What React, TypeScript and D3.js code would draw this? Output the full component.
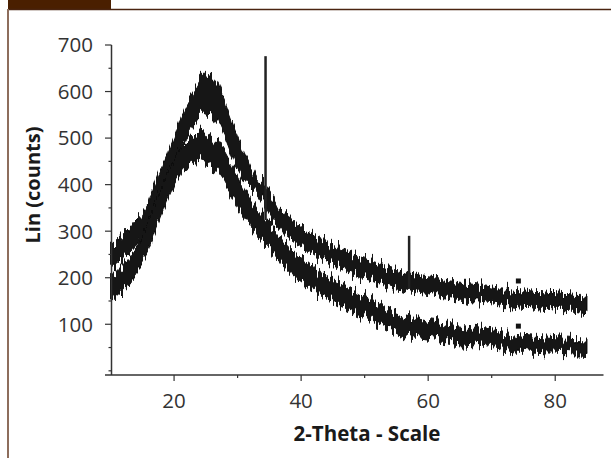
import React from 'react';
import * as d3 from 'd3';

const twoTheta = [10,11,12,13,14,15,16,17,18,19,20,21,22,23,24,25,26,27,28,29,30,31,32,33,34,35,36,37,38,39,40,41,42,43,44,45,46,47,48,49,50,51,52,53,54,55,56,57,58,59,60,61,62,63,64,65,66,67,68,69,70,71,72,73,74,75,76,77,78,79,80,81,82,83,84,85];

const sampleAHigh = [266,278,294,308,324,336,360,398,435,469,507,544,576,602,626,640,636,612,575,537,503,468,438,411,406,382,358,343,332,320,310,298,292,284,278,270,264,260,252,246,242,236,232,226,222,218,214,210,208,204,202,200,196,194,192,188,188,186,184,180,178,176,176,174,172,172,170,168,168,166,166,164,164,162,162,160];
const sampleALow = [220,230,242,254,270,286,308,347,382,416,450,482,508,530,547,554,552,530,500,464,434,410,394,382,362,332,314,302,287,277,268,258,250,242,236,228,222,216,210,204,200,196,190,187,182,178,176,172,170,168,166,162,160,158,156,152,150,148,148,146,144,142,140,140,138,136,136,134,132,132,130,130,128,128,126,126];

const sampleBHigh = [203,213,226,243,263,290,320,358,393,428,460,483,498,508,513,510,503,488,468,443,418,390,368,348,333,316,298,282,266,254,243,233,222,212,203,196,190,182,174,168,160,154,148,140,132,124,120,116,112,110,106,104,102,100,98,96,94,92,90,88,86,84,80,78,76,74,73,72,71,70,69,68,68,67,67,66];
const sampleBLow = [152,162,174,187,207,234,262,300,337,370,402,427,442,450,452,448,438,422,402,377,352,330,312,294,277,264,246,230,214,202,192,182,174,164,156,148,140,134,128,122,116,110,104,98,90,82,78,76,72,70,68,66,64,62,60,58,57,56,54,52,50,48,46,44,42,42,40,40,39,38,38,37,37,36,36,35];

// sharp reflections
const peakTheta = [34.4, 57.0];
const peakBase = [324, 176];
const peakTop = [676, 290];

// isolated points
const dotTheta = [74.2, 74.2];
const dotValue = [193, 96];

const yTicks = [100, 200, 300, 400, 500, 600, 700];
const yMinor = [0, 50, 150, 250, 350, 450, 550, 650];
const xTicks = [20, 40, 60, 80];
const xMinor = [30, 50, 70];

type Row = { t: number; lo: number; hi: number };

export default function App() {
  const x = d3.scaleLinear().domain([10.15, 87.6]).range([111.5, 603.5]);
  const y = d3.scaleLinear().domain([-9, 700]).range([375, 45]);

  const rowsA: Row[] = twoTheta.map((t, i) => ({ t, lo: sampleALow[i], hi: sampleAHigh[i] }));
  const rowsB: Row[] = twoTheta.map((t, i) => ({ t, lo: sampleBLow[i], hi: sampleBHigh[i] }));
  const area = d3.area<Row>().x(d => x(d.t)).y0(d => y(d.lo)).y1(d => y(d.hi)).curve(d3.curveLinear);

  const font = "'Open Sans', sans-serif";
  const axisColor = '#333';
  const ink = '#121212';

  return (
    <svg width={611} height={458} style={{ position: 'absolute', left: 0, top: 0, background: '#fff' }}>
      <defs>
        <filter id="noisy" x="-5%" y="-10%" width="110%" height="120%" filterUnits="objectBoundingBox">
          <feTurbulence type="fractalNoise" baseFrequency="0.42 0.004" numOctaves={2} seed={7} result="turb" />
          <feComponentTransfer in="turb" result="map">
            <feFuncR type="linear" slope={0} intercept={0.5} />
            <feFuncG type="linear" slope={1.7} intercept={-0.35} />
          </feComponentTransfer>
          <feDisplacementMap in="SourceGraphic" in2="map" scale={15} xChannelSelector="R" yChannelSelector="G" />
        </filter>
      </defs>

      {/* frame */}
      <rect x={8} y={0} width={103} height={9} fill="#4a1f00" />
      <line x1={8} x2={611} y1={9.5} y2={9.5} stroke="#4a2410" strokeWidth={1.5} />
      <line x1={8} x2={8} y1={9} y2={458} stroke="#8d6d5c" strokeWidth={2} />

      {/* data */}
      <g filter="url(#noisy)">
        <path d={area(rowsA) || ''} fill={ink} stroke={ink} strokeWidth={1} />
        <path d={area(rowsB) || ''} fill={ink} stroke={ink} strokeWidth={1} />
      </g>
      {peakTheta.map((t, i) => (
        <line key={'p' + i} x1={x(t)} x2={x(t)} y1={y(peakBase[i])} y2={y(peakTop[i])} stroke="#222" strokeWidth={2.5} />
      ))}
      {dotTheta.map((t, i) => (
        <rect key={'d' + i} x={x(t) - 2.5} y={y(dotValue[i]) - 2.5} width={5} height={5} fill={ink} />
      ))}

      {/* y axis */}
      <line x1={111.5} x2={111.5} y1={y(700)} y2={375} stroke={axisColor} strokeWidth={1.5} />
      {yTicks.map(v => (
        <g key={'yt' + v}>
          <line x1={105} x2={111.5} y1={y(v)} y2={y(v)} stroke={axisColor} strokeWidth={1.2} />
          <text x={93} y={y(v)} dy="0.36em" textAnchor="end" fontFamily={font} fontSize={20.5} fill="#333">{v}</text>
        </g>
      ))}
      {yMinor.map(v => (
        <line key={'ym' + v} x1={108.5} x2={111.5} y1={y(v)} y2={y(v)} stroke={axisColor} strokeWidth={1.2} />
      ))}

      {/* x axis */}
      <line x1={105} x2={603.5} y1={375} y2={375} stroke={axisColor} strokeWidth={1.5} />
      {xTicks.map(v => (
        <g key={'xt' + v}>
          <line x1={x(v)} x2={x(v)} y1={375} y2={381} stroke={axisColor} strokeWidth={1.2} />
          <text x={x(v)} y={408} textAnchor="middle" fontFamily={font} fontSize={20.5} fill="#333">{v}</text>
        </g>
      ))}
      {xMinor.map(v => (
        <line key={'xm' + v} x1={x(v)} x2={x(v)} y1={375} y2={378} stroke={axisColor} strokeWidth={1.2} />
      ))}

      <text x={367} y={441} textAnchor="middle" fontFamily={font} fontSize={20.5} fontWeight="bold" fill="#1a1a1a">2-Theta - Scale</text>
      <text transform="translate(40,185) rotate(-90)" textAnchor="middle" fontFamily={font} fontSize={20} fontWeight="bold" fill="#1a1a1a">Lin (counts)</text>
    </svg>
  );
}
